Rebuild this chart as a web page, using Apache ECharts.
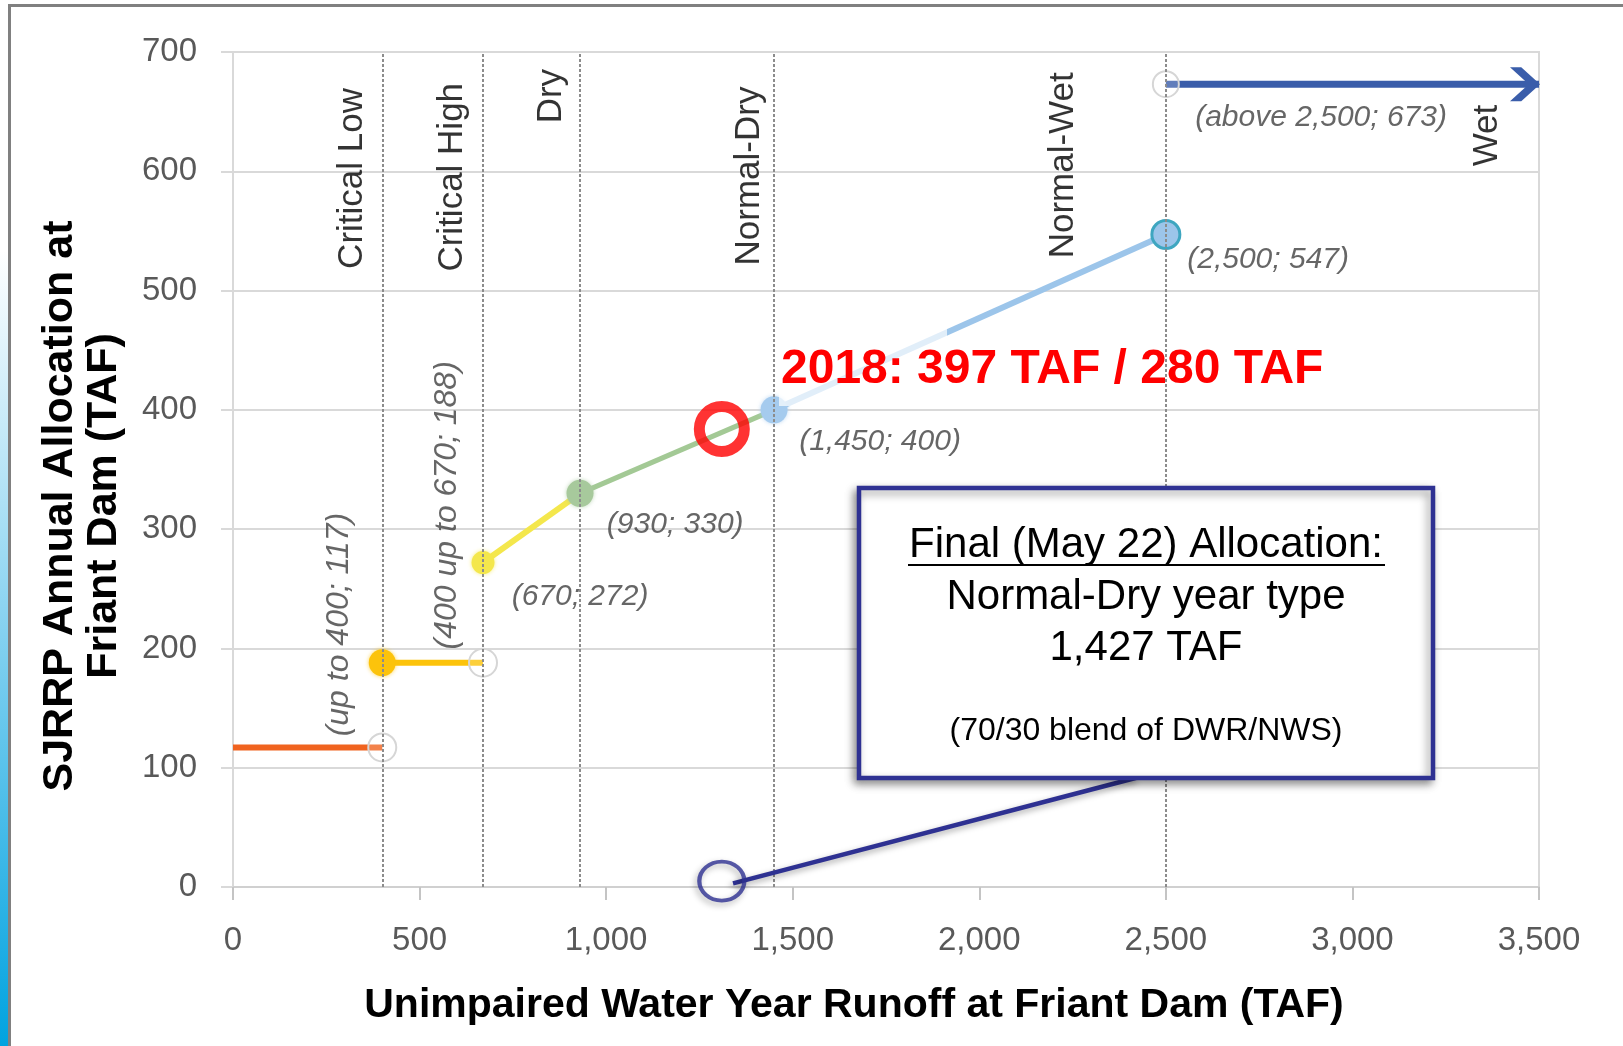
<!DOCTYPE html>
<html>
<head>
<meta charset="utf-8">
<script src="https://cdn.jsdelivr.net/npm/echarts@6/dist/echarts.min.js"></script>
<style>
html,body{margin:0;padding:0;background:#fff;}
#chart{width:1623px;height:1046px;}
</style>
</head>
<body>
<div id="chart"></div>
<script>
// ---- data ----
const xTicks = [0, 500, 1000, 1500, 2000, 2500, 3000, 3500];
const yTicks = [0, 100, 200, 300, 400, 500, 600, 700];
const yearTypes = ['Critical Low', 'Critical High', 'Dry', 'Normal-Dry', 'Normal-Wet', 'Wet'];
const yearTypePos = [[319, 594], [587, 595], [852, 663], [1383, 596], [2225, 605], [3361, 630]];
const boundaries = [400, 670, 930, 1450, 2500];
const segCriticalLow = [[0, 117], [400, 117]];
const segCriticalHigh = [[400, 188], [670, 188]];
const segDry = [[670, 272], [930, 330]];
const segNormalDry = [[930, 330], [1450, 400]];
const segNormalWet = [[1450, 400], [2500, 547]];
const segWet = [[2500, 673], [3500, 673]];
const pointLabels = ['(up to 400; 117)', '(400 up to 670; 188)', '(670; 272)', '(930; 330)', '(1,450; 400)', '(2,500; 547)', '(above 2,500; 673)'];
const pointLabelPos = [[285, 220], [574, 320], [930, 243], [1185, 304], [1734, 373], [2774, 526], [2916, 645]];
const pointLabelRotate = [90, 90, 0, 0, 0, 0, 0];
const marker2018 = [1310, 384];
const forecastRing = [1310, 5];
const leader = [[1340, 3], [2426, 92]];
const headline = '2018: 397 TAF / 280 TAF';
const boxLines = ['Final (May 22) Allocation:', 'Normal-Dry year type', '1,427 TAF', '(70/30 blend of DWR/NWS)'];

const FONT = "'Liberation Sans', Arial, sans-serif";
const chart = echarts.init(document.getElementById('chart'), null, {renderer: 'canvas'});

const hollow = {color: 'rgba(255,255,255,0.2)', borderColor: '#d6d6d6', borderWidth: 2};
function seg(name, data, color, width, sym, z) {
  return {
    type: 'line', name: name, z: z || 3, silent: true,
    data: data.map((d, i) => Object.assign({value: d}, sym[i] || {symbol: 'none'})),
    showSymbol: true,
    lineStyle: {color: color, width: width, cap: 'butt'},
    itemStyle: {color: color},
    label: {show: false}
  };
}

const series = [
  seg('Critical Low', segCriticalLow, '#f0631f', 6, [null, {symbol: 'circle', symbolSize: 28, itemStyle: hollow}]),
  seg('Critical High', segCriticalHigh, '#fcc30b', 6, [
    {symbol: 'circle', symbolSize: 27, itemStyle: {color: '#fcc30b', shadowBlur: 4, shadowColor: 'rgba(252,195,11,0.7)'}},
    {symbol: 'circle', symbolSize: 28, itemStyle: hollow}]),
  seg('Dry', segDry, '#f4e74c', 6, [
    {symbol: 'circle', symbolSize: 23, itemStyle: {color: '#f4e74c', shadowBlur: 4, shadowColor: 'rgba(244,231,76,0.7)'}}, null]),
  seg('Normal-Dry', segNormalDry, '#a3c995', 5, [
    {symbol: 'circle', symbolSize: 27, itemStyle: {color: '#a7c99c', shadowBlur: 4, shadowColor: 'rgba(167,201,156,0.7)'}}, null]),
  seg('Normal-Wet', segNormalWet, '#9cc5ea', 6, [
    {symbol: 'circle', symbolSize: 27, itemStyle: {color: '#a5cbee', shadowBlur: 4, shadowColor: 'rgba(165,203,238,0.7)'}},
    {symbol: 'circle', symbolSize: 28, itemStyle: {color: '#9cc5ea', borderColor: '#3ea6c0', borderWidth: 3}}]),
  seg('Wet', segWet, '#3a5daa', 7, [
    {symbol: 'circle', symbolSize: 26, itemStyle: hollow},
    {symbol: 'path://M0,0 L6,0 L16,10 L6,20 L0,20 L10,10 Z', symbolSize: [30, 34], symbolOffset: [-14, 0], itemStyle: {color: '#3a5daa'}}]),
  // boundary dotted lines
  {
    type: 'line', data: [], z: 6, silent: true,
    markLine: {
      silent: true, symbol: ['none', 'none'], label: {show: false},
      lineStyle: {type: [3, 2], color: '#8c8c8c', width: 2},
      data: boundaries.map(b => ({xAxis: b}))
    }
  },
  // point labels
  {
    type: 'scatter', z: 7, silent: true, symbolSize: 1,
    itemStyle: {color: 'rgba(0,0,0,0)'},
    data: pointLabelPos.map((p, i) => ({
      value: p,
      label: {
        show: true, position: 'inside', formatter: pointLabels[i], rotate: pointLabelRotate[i],
        color: '#404040', fontStyle: 'italic', fontFamily: FONT, fontSize: pointLabelRotate[i] ? 32 : 30,
        align: 'center', verticalAlign: 'middle'
      }
    }))
  },
  // year-type labels
  {
    type: 'scatter', z: 7, silent: true, symbolSize: 1,
    itemStyle: {color: 'rgba(0,0,0,0)'},
    data: yearTypePos.map((p, i) => ({
      value: p,
      label: {
        show: true, position: 'inside', formatter: yearTypes[i], rotate: 90,
        color: '#000', fontFamily: FONT, fontSize: 35,
        align: 'center', verticalAlign: 'middle'
      }
    }))
  },
  // 2018 red ring
  {
    type: 'scatter', z: 9, silent: true, symbol: 'circle', symbolSize: 45,
    itemStyle: {color: 'rgba(0,0,0,0)', borderColor: '#ff0000', borderWidth: 11},
    data: [marker2018]
  },
  // leader line + forecast ring
  {
    type: 'line', z: 8, silent: true, symbol: 'none',
    lineStyle: {color: '#2e3192', width: 4.5, shadowBlur: 6, shadowColor: 'rgba(0,0,0,0.35)', shadowOffsetX: -2, shadowOffsetY: 3},
    data: leader
  },
  {
    type: 'scatter', z: 8, silent: true, symbol: 'circle', symbolSize: [45, 39],
    itemStyle: {color: 'rgba(0,0,0,0)', borderColor: '#2e3192', borderWidth: 4, shadowBlur: 6, shadowColor: 'rgba(0,0,0,0.35)', shadowOffsetX: -2, shadowOffsetY: 3},
    data: [forecastRing]
  }
];

const option = {
  animation: false,
  backgroundColor: '#ffffff',
  grid: {left: 233, right: 84, top: 52, bottom: 159, show: true, borderColor: '#d9d9d9', borderWidth: 2, backgroundColor: 'transparent'},
  xAxis: {
    type: 'value', min: xTicks[0], max: xTicks[xTicks.length - 1], interval: 500,
    axisLine: {show: true, lineStyle: {color: '#d0d0d0', width: 2}},
    axisTick: {show: true, length: 13, lineStyle: {color: '#c4c4c4', width: 2}},
    splitLine: {show: false},
    axisLabel: {color: '#595959', fontFamily: FONT, fontSize: 33, margin: 37,
      formatter: v => v.toLocaleString('en-US')}
  },
  yAxis: {
    type: 'value', min: yTicks[0], max: yTicks[yTicks.length - 1], interval: 100,
    axisLine: {show: true, lineStyle: {color: '#d9d9d9', width: 2}},
    axisTick: {show: true, length: 12, lineStyle: {color: '#d9d9d9', width: 2}},
    splitLine: {show: true, lineStyle: {color: '#d9d9d9', width: 2}},
    axisLabel: {color: '#595959', fontFamily: FONT, fontSize: 33, margin: 36}
  },
  graphic: [
    // left blue strip + frame
    {type: 'rect', z: 0, shape: {x: 0, y: 250, width: 8, height: 796},
      style: {fill: new echarts.graphic.LinearGradient(0, 0, 0, 1, [
        {offset: 0, color: 'rgba(0,160,224,0)'}, {offset: 0.45, color: 'rgba(0,160,224,0.45)'}, {offset: 1, color: '#00a3e0'}])}},
    {type: 'line', z: 0, shape: {x1: 9.5, y1: 5, x2: 9.5, y2: 1046}, style: {stroke: '#808080', lineWidth: 3}},
    {type: 'line', z: 0, shape: {x1: 8, y1: 5.5, x2: 1623, y2: 5.5}, style: {stroke: '#808080', lineWidth: 3}},
    // axis titles
    {type: 'text', z: 10, x: 82, y: 506, rotation: Math.PI / 2,
      style: {text: 'SJRRP Annual Allocation at\nFriant Dam (TAF)', fill: '#000', font: 'bold 43px ' + FONT,
        align: 'center', verticalAlign: 'middle', lineHeight: 44}},
    {type: 'text', z: 10, x: 854, y: 1006,
      style: {text: 'Unimpaired Water Year Runoff at Friant Dam (TAF)', fill: '#000', font: 'bold 41px ' + FONT,
        align: 'center', verticalAlign: 'middle'}},
    // faded patch over the blue line (under headline)
    {type: 'rect', z: 50, shape: {x: 779, y: 328, width: 168, height: 78}, style: {fill: 'rgba(255,255,255,0.7)'}},
    // headline
    {type: 'text', z: 60, x: 781, y: 370,
      style: {text: headline, fill: '#ff0000', font: 'bold 48px ' + FONT, align: 'left', verticalAlign: 'middle'}},
    // text box
    {type: 'rect', z: 70, shape: {x: 859, y: 488, width: 574, height: 290},
      style: {fill: '#ffffff', stroke: '#2e3192', lineWidth: 4.5, shadowBlur: 8, shadowColor: 'rgba(0,0,0,0.4)', shadowOffsetX: -3, shadowOffsetY: 4}},
    {type: 'text', z: 71, x: 1146, y: 545,
      style: {text: boxLines[0], fill: '#000', font: '42px ' + FONT, align: 'center', verticalAlign: 'middle'}},
    {type: 'line', z: 71, shape: {x1: 908, y1: 565, x2: 1385, y2: 565}, style: {stroke: '#000', lineWidth: 2}},
    {type: 'text', z: 71, x: 1146, y: 597,
      style: {text: boxLines[1], fill: '#000', font: '42px ' + FONT, align: 'center', verticalAlign: 'middle'}},
    {type: 'text', z: 71, x: 1146, y: 648,
      style: {text: boxLines[2], fill: '#000', font: '42px ' + FONT, align: 'center', verticalAlign: 'middle'}},
    {type: 'text', z: 71, x: 1146, y: 731,
      style: {text: boxLines[3], fill: '#000', font: '32px ' + FONT, align: 'center', verticalAlign: 'middle'}}
  ],
  series: series
};
chart.setOption(option);
</script>
</body>
</html>
